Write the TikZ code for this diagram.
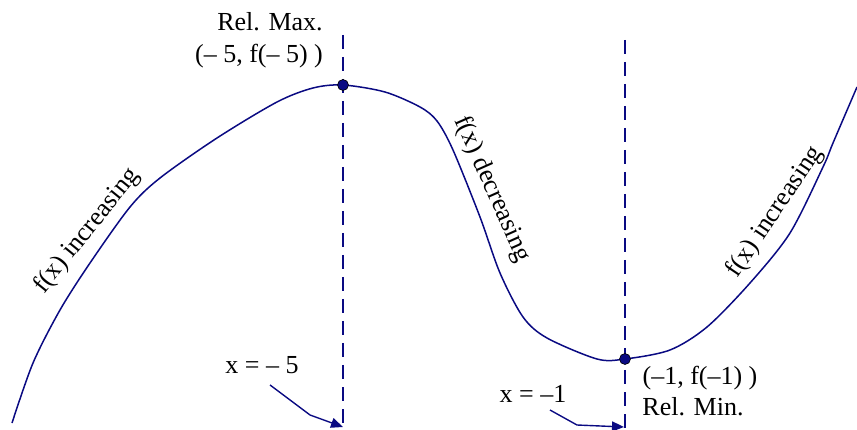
\documentclass[tikz,border=0pt]{standalone}
\usepackage{fontspec}
\setmainfont{Liberation Serif}
\usetikzlibrary{arrows.meta}
\definecolor{navy}{RGB}{10,10,130}
\begin{document}
\begin{tikzpicture}[x=1pt,y=-1pt,
  curve/.style={navy, line width=1.5pt},
  guide/.style={navy, line width=2.8pt, dash pattern=on 14pt off 8pt},
  dot/.style={circle, fill=navy, draw=black, line width=0.6pt, inner sep=0pt, minimum size=11pt},
  lbl/.style={font=\fontsize{26}{28}\selectfont, inner sep=1pt},
  pointer/.style={navy, line width=1.4pt, -{Triangle[length=12pt,width=10pt]}}]
\useasboundingbox (0,0) rectangle (857,430);
\draw[curve] plot[smooth, tension=0.5] coordinates {
 (12,423) (33,363) (60,310) (90,263) (130,207) (160,178) (217,138) (277,102) (313,88) (343,85)
 (385,92) (420,107) (437,121) (453,150) (480,217) (500,273) (523,317) (547,338) (597,359) (625,359)
 (670,350) (707,327) (750,283) (790,233) (823,167) (833,143) (857,87)};
\draw[guide] (343,35) -- (343,430);
\draw[guide] (625,40) -- (625,430);
\node[dot] (max) at (343,85) {};
\node[dot] (min) at (625,359) {};
\node[lbl] (relmax) at (270,22) {Rel. Max.};
\node[lbl] (maxpt) at (259,56) {(– 5, f(– 5) )};
\node[lbl] (xm5) at (262,365) {x = – 5};
\node[lbl] (xm1) at (533,394) {x = –1};
\node[lbl] (minpt) at (700,378) {(–1, f(–1) )};
\node[lbl] (relmin) at (693,407) {Rel. Min.};
\node[lbl, rotate=51] (inc1) at (87,231) {f(x) increasing};
\node[lbl, rotate=-66] (dec) at (492,189) {f(x) decreasing};
\node[lbl, rotate=56] (inc2) at (775,212) {f(x) increasing};
\coordinate (t1) at (343,427);
\coordinate (t2) at (624,427);
\draw[pointer] (270,385) -- (310,415) -- (t1);
\draw[pointer] (550,410) -- (577,425) -- (t2);
\end{tikzpicture}
\end{document}
